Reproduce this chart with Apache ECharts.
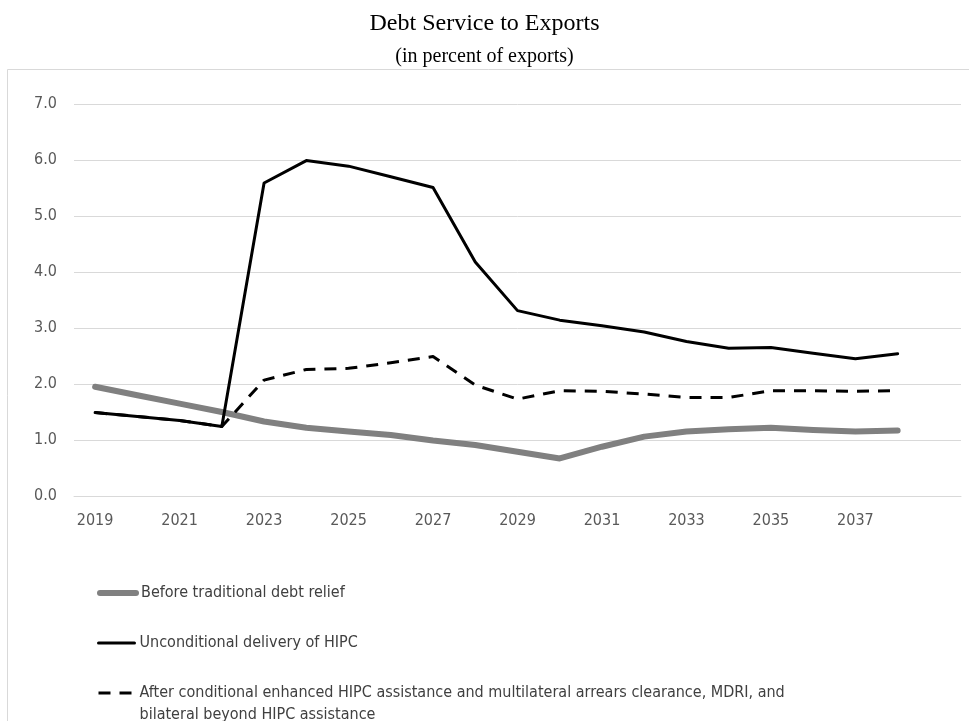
<!DOCTYPE html>
<html>
<head>
<meta charset="utf-8">
<script src="https://cdn.jsdelivr.net/npm/echarts@6/dist/echarts.min.js"></script>
<style>
  html, body { margin: 0; padding: 0; background: #ffffff; }
  #chart { width: 969px; height: 721px; }
</style>
</head>
<body>
<div id="chart"></div>
<script>
// Years on the horizontal axis; the trailing blank slot leaves room after 2038.
const years = ['2019', '2020', '2021', '2022', '2023', '2024', '2025', '2026', '2027', '2028',
               '2029', '2030', '2031', '2032', '2033', '2034', '2035', '2036', '2037', '2038', ''];

// Debt service, in percent of exports
const beforeRelief = [1.95, 1.80, 1.65, 1.50, 1.33, 1.22, 1.15, 1.09, 0.99, 0.91,
                      0.79, 0.67, 0.88, 1.06, 1.15, 1.19, 1.22, 1.18, 1.15, 1.17];
const unconditionalHipc = [1.49, 1.42, 1.35, 1.24, 5.59, 5.99, 5.89, 5.70, 5.51, 4.18,
                           3.31, 3.14, 3.04, 2.93, 2.76, 2.64, 2.65, 2.55, 2.45, 2.54];
const afterConditional = [1.49, 1.42, 1.35, 1.24, 2.07, 2.26, 2.28, 2.38, 2.49, 1.98,
                          1.73, 1.88, 1.87, 1.82, 1.76, 1.76, 1.88, 1.88, 1.87, 1.88];

const seriesNames = [
  'Before traditional debt relief',
  'Unconditional delivery of HIPC',
  'After conditional enhanced HIPC assistance and multilateral arrears clearance, MDRI, and bilateral beyond HIPC assistance'
];

const sansFont = '"Liberation Sans Narrow", "DejaVu Sans Condensed", Roboto, sans-serif';
const serifFont = '"Liberation Serif", "Times New Roman", serif';
const labelColor = '#595959';
const gridColor = '#d9d9d9';

const legendText = {
  fontFamily: sansFont,
  fontSize: 16,
  color: '#404040'
};

// Shared legend settings: line swatch only, no marker dot
const legendBase = {
  orient: 'vertical',
  left: 92,
  itemWidth: 36,
  itemHeight: 14,
  selectedMode: false,
  itemStyle: { opacity: 0 },
  textStyle: legendText
};

const chart = echarts.init(document.getElementById('chart'), null, { renderer: 'canvas' });

chart.setOption({
  animation: false,
  backgroundColor: '#ffffff',
  title: [
    {
      text: 'Debt Service to Exports',
      left: 'center',
      top: 7,
      textStyle: { fontFamily: serifFont, fontSize: 24, fontWeight: 'normal', color: '#000000', lineHeight: 24 }
    },
    {
      text: '(in percent of exports)',
      left: 'center',
      top: 42,
      textStyle: { fontFamily: serifFont, fontSize: 20, fontWeight: 'normal', color: '#000000', lineHeight: 20 }
    }
  ],
  graphic: [
    {
      type: 'rect',
      shape: { x: 7.5, y: 69.5, width: 1000, height: 700 },
      style: { fill: 'none', stroke: '#d9d9d9', lineWidth: 1 },
      silent: true,
      z: -1
    }
  ],
  grid: { left: 74, right: 8, top: 104, bottom: 225, containLabel: false },
  legend: [
    Object.assign({}, legendBase, {
      top: 580,
      data: [seriesNames[0]],
      lineStyle: { width: 6, cap: 'round' }
    }),
    Object.assign({}, legendBase, {
      top: 630,
      data: [seriesNames[1]],
      lineStyle: { width: 3 }
    }),
    Object.assign({}, legendBase, {
      top: 655,
      data: [seriesNames[2]],
      lineStyle: { width: 3 },
      // a blank leading line centres the swatch on the first printed line of the wrapped label
      formatter: function (name) {
        return ' \n' + name.replace(', and bilateral', ', and\nbilateral');
      },
      textStyle: Object.assign({}, legendText, { lineHeight: 22 })
    })
  ],
  xAxis: {
    type: 'category',
    data: years,
    boundaryGap: true,
    axisLine: { show: true, lineStyle: { color: gridColor, width: 1 } },
    axisTick: { show: false },
    axisLabel: {
      interval: 1,
      margin: 17,
      fontFamily: sansFont,
      fontSize: 16,
      color: labelColor
    }
  },
  yAxis: {
    type: 'value',
    min: 0,
    max: 7,
    interval: 1,
    axisLine: { show: false },
    axisTick: { show: false },
    splitLine: { show: true, lineStyle: { color: gridColor, width: 1 } },
    axisLabel: {
      margin: 17,
      fontFamily: sansFont,
      fontSize: 16,
      color: labelColor,
      formatter: function (v) { return v.toFixed(1); }
    }
  },
  series: [
    {
      name: seriesNames[0],
      type: 'line',
      data: beforeRelief,
      symbol: 'none',
      itemStyle: { color: '#808080' },
      lineStyle: { color: '#808080', width: 6, cap: 'round', join: 'round' },
      z: 2
    },
    {
      name: seriesNames[1],
      type: 'line',
      data: unconditionalHipc,
      symbol: 'none',
      itemStyle: { color: '#000000' },
      lineStyle: { color: '#000000', width: 3, cap: 'round', join: 'round' },
      z: 3
    },
    {
      name: seriesNames[2],
      type: 'line',
      data: afterConditional,
      symbol: 'none',
      itemStyle: { color: '#000000' },
      lineStyle: { color: '#000000', width: 3, type: [12, 9], cap: 'butt', join: 'round' },
      z: 4
    }
  ]
});
</script>
</body>
</html>
